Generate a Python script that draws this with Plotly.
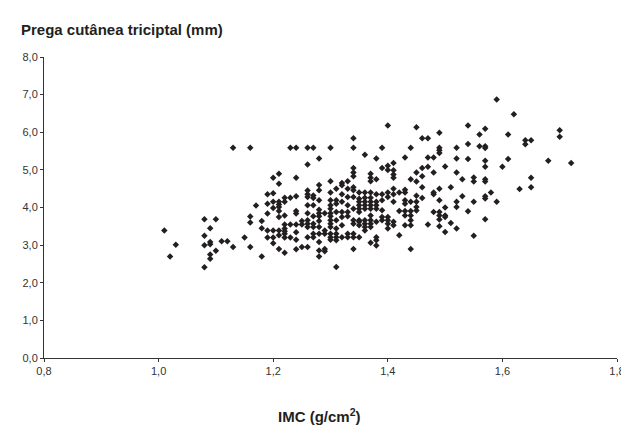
import plotly.graph_objects as go

# IMC (g/cm2) values and corresponding Prega cutânea triciptal (mm)
imc = (
    [1.01, 1.02, 1.03]
    + [1.08] * 4 + [1.09] * 5 + [1.10] * 2 + [1.11, 1.12] + [1.13] * 2 + [1.15]
    + [1.16] * 4 + [1.17] + [1.18] * 3 + [1.19] * 5 + [1.20] * 7 + [1.21] * 10
    + [1.22] * 9 + [1.23] * 4 + [1.24] * 9 + [1.25] * 3 + [1.26] * 12
    + [1.27] * 9 + [1.28] * 13 + [1.29] * 5 + [1.30] * 14 + [1.31] * 10
    + [1.32] * 8 + [1.33] * 8 + [1.34] * 14 + [1.35] * 10 + [1.36] * 10
    + [1.37] * 13 + [1.38] * 10 + [1.39] * 7 + [1.40] * 9 + [1.41] * 9
    + [1.42] * 3 + [1.43] * 8 + [1.44] * 8 + [1.45] * 7 + [1.46] * 5
    + [1.47] * 4 + [1.48] * 5 + [1.49] * 10 + [1.50] * 5 + [1.51] * 2
    + [1.52] * 6 + [1.53] * 2 + [1.54] * 4 + [1.55] * 4 + [1.56] * 2
    + [1.57] * 10 + [1.58] + [1.59] * 2 + [1.60] + [1.61] * 2 + [1.62]
    + [1.63] + [1.64] * 2 + [1.65] * 3 + [1.68] + [1.70] * 2 + [1.72]
)

prega = [
    3.39, 2.70, 3.01,
    3.69, 3.25, 3.00, 2.41,
    3.45, 3.08, 3.02, 2.75, 2.64,
    3.69, 2.85,
    3.10, 3.10,
    5.59, 2.95,
    3.20,
    5.59, 3.76, 3.60, 2.95,
    4.05,
    3.64, 3.45, 2.70,
    4.35, 4.10, 3.84, 3.39, 3.20,
    4.79, 4.38, 4.15, 3.99, 3.39, 3.20, 3.05,
    4.90, 4.63, 4.15, 4.08, 4.01, 3.91, 3.75, 3.39, 3.26, 2.90,
    4.26, 4.15, 3.79, 3.55, 3.44, 3.37, 3.30, 3.20, 2.80,
    5.59, 4.26, 3.55, 3.20,
    5.59, 4.79, 4.30, 3.91, 3.84, 3.55, 3.34, 3.14, 2.89,
    3.64, 3.55, 2.95,
    5.59, 5.14, 4.45, 4.35, 4.28, 4.06, 3.85, 3.66, 3.57, 3.48, 3.21, 2.95,
    5.59, 4.32, 4.25, 4.06, 3.77, 3.57, 3.48, 3.30, 3.21,
    5.30, 4.60, 4.46, 4.19, 3.94, 3.85, 3.77, 3.64, 3.48, 3.30, 3.08, 2.86, 2.70,
    3.85, 3.39, 3.30, 2.90, 2.84,
    5.59, 4.70, 4.40, 4.19, 4.06, 3.97, 3.85, 3.77, 3.66, 3.57, 3.48, 3.30, 3.21, 3.14,
    4.50, 4.19, 4.10, 3.88, 3.66, 3.44, 3.30, 3.21, 3.13, 2.42,
    4.65, 4.59, 4.35, 4.15, 3.88, 3.75, 3.53, 3.21,
    4.70, 4.50, 4.28, 4.06, 3.88, 3.77, 3.30, 3.21,
    5.84, 5.59, 5.05, 4.93, 4.83, 4.54, 4.46, 4.28, 3.97, 3.66, 3.57, 3.30, 3.21, 2.90,
    4.40, 4.23, 4.15, 4.06, 3.97, 3.88, 3.66, 3.62, 3.53, 3.21,
    5.40, 4.40, 4.26, 4.15, 4.06, 3.97, 3.66, 3.57, 3.48, 3.39,
    4.90, 4.79, 4.70, 4.40, 4.26, 4.15, 4.06, 3.97, 3.79, 3.66, 3.57, 3.48, 3.06,
    5.30, 4.75, 4.35, 4.15, 4.06, 3.97, 3.62, 3.21, 3.13, 2.99,
    5.59, 5.05, 4.35, 4.19, 3.93, 3.75, 3.66,
    6.18, 5.11, 5.00, 4.40, 4.28, 3.75, 3.66, 3.57, 3.44,
    5.18, 4.99, 4.88, 4.79, 4.50, 4.35, 4.15, 3.62, 3.53,
    4.40, 3.91, 3.26,
    5.33, 4.47, 4.40, 4.19, 4.10, 3.91, 3.79, 3.53,
    5.59, 4.75, 4.15, 3.91, 3.79, 3.66, 3.53, 2.90,
    6.13, 4.93, 4.69, 4.31, 4.15, 4.01, 3.92,
    5.84, 5.05, 4.83, 4.54, 4.25,
    5.84, 5.33, 5.08, 3.55,
    5.33, 4.93, 4.40, 4.35, 3.88,
    5.99, 5.59, 5.52, 5.45, 4.50, 4.19, 3.88, 3.79, 3.68, 3.50,
    5.09, 4.00, 3.79, 3.75, 3.35,
    4.54, 3.59,
    5.59, 5.30, 4.93, 4.15, 4.01, 3.44,
    4.75, 4.30,
    6.18, 5.69, 5.29, 3.90,
    4.80, 4.69, 4.15, 3.25,
    5.94, 5.63,
    6.09, 5.63, 5.58, 5.24, 5.08, 4.75, 4.69, 4.30, 4.24, 3.69,
    4.40,
    6.87, 4.15,
    5.08,
    5.94, 5.29,
    6.48,
    4.49,
    5.79, 5.68,
    5.79, 4.79, 4.54,
    5.24,
    6.05, 5.88,
    5.18,
]

x_ticks = [0.8, 1.0, 1.2, 1.4, 1.6, 1.8]
y_ticks = [0, 1, 2, 3, 4, 5, 6, 7, 8]

fig = go.Figure(
    go.Scatter(
        x=imc, y=prega, mode="markers",
        marker=dict(symbol="diamond", size=5, color="#231f20", line=dict(width=0)),
        hoverinfo="x+y",
    )
)

axis_font = dict(family="Liberation Sans, Arial, sans-serif", size=11, color="#333333")

fig.update_layout(
    width=629, height=427,
    margin=dict(l=36, r=13, t=49, b=77),
    paper_bgcolor="white", plot_bgcolor="white",
    separators=",.",
    showlegend=False,
    xaxis=dict(
        range=[0.8, 1.8], tickvals=x_ticks, tickformat=".1f",
        showgrid=False, zeroline=False, showline=True, linecolor="#333333", linewidth=1,
        ticks="outside", ticklen=3, tickcolor="#333333", tickfont=axis_font,
    ),
    yaxis=dict(
        range=[0, 8], tickvals=y_ticks, tickformat=".1f",
        showgrid=False, zeroline=False, showline=True, linecolor="#333333", linewidth=1,
        ticks="outside", ticklen=3, tickcolor="#333333", tickfont=axis_font,
    ),
    annotations=[
        dict(
            text="<b>Prega cutânea triciptal (mm)</b>",
            xref="paper", yref="paper", x=-0.043, y=1.09,
            xanchor="left", yanchor="middle", showarrow=False,
            font=dict(family="Liberation Sans, Arial, sans-serif", size=15, color="#231f20"),
        ),
        dict(
            text="<b>IMC (g/cm<sup>2</sup>)</b>",
            xref="paper", yref="paper", x=0.48, y=-0.19,
            xanchor="center", yanchor="middle", showarrow=False,
            font=dict(family="Liberation Sans, Arial, sans-serif", size=15, color="#231f20"),
        ),
    ],
)

fig.write_html("out.html")
